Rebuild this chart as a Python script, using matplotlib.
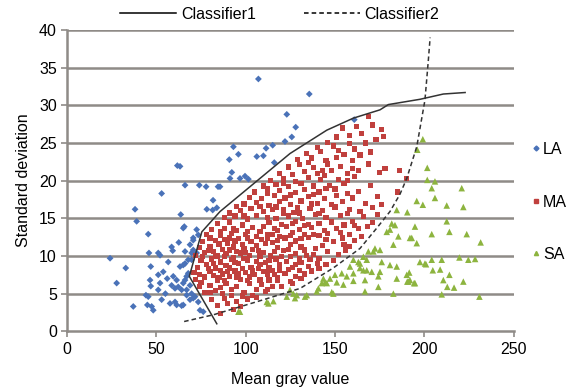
import matplotlib
matplotlib.use("Agg")
import matplotlib.pyplot as plt
from matplotlib.lines import Line2D

plt.rcParams['font.family'] = ['Liberation Sans', 'DejaVu Sans']

# ---------------- data ----------------
la_x = [61.7, 66.0, 74.0, 77.8, 84.5, 52.9, 38.0, 38.9, 81.7, 78.2, 81.5, 83.8, 63.6, 65.6, 45.4,
        24.0, 32.8, 27.7, 45.8, 51.0, 52.0, 58.5, 59.1, 46.8, 51.0, 53.8, 56.6, 46.4, 46.8, 52.0,
        51.0, 44.1, 45.4, 44.9, 47.3, 48.2, 37.0, 52.9, 57.6, 60.4, 61.3, 64.1, 59.4, 61.3, 58.5,
        60.4, 62.2, 63.2, 66.0, 67.8, 66.9, 65.0, 66.9, 69.7, 70.6, 72.5, 73.4, 69.7, 72.5, 74.4,
        76.2, 68.8, 71.6, 107.1, 135.6, 123.0, 128.0, 125.8, 122.0, 115.1, 111.4, 93.1, 95.9, 90.8,
        92.2, 91.2, 96.8, 99.6, 101.5, 106.2, 109.9, 116.0, 85.6, 63.2, 160.8, 70.6, 68.8, 66.0,
        70.6, 69.7, 65.0, 67.8, 66.0, 68.8, 64.1, 66.9, 70.6, 73.4, 65.0, 65.0, 56.0, 62.5, 55.0]
la_y = [22.0, 19.4, 19.4, 19.2, 19.2, 18.3, 16.2, 14.6, 17.4, 16.2, 16.1, 16.4, 15.5, 13.9, 12.9,
        9.7, 8.4, 6.4, 10.4, 10.4, 10.1, 11.2, 10.7, 8.6, 7.5, 7.9, 9.2, 6.8, 6.0, 6.4,
        5.5, 4.8, 4.6, 3.5, 3.3, 2.8, 3.3, 4.2, 3.7, 3.9, 3.5, 3.4, 7.3, 6.8, 6.1,
        5.7, 5.9, 8.6, 9.0, 9.5, 7.3, 6.4, 5.5, 5.0, 12.1, 13.5, 12.8, 10.4, 10.4, 2.8,
        2.6, 4.2, 4.6, 33.5, 31.5, 28.8, 27.1, 25.8, 25.2, 24.7, 24.3, 24.5, 23.5, 22.8,
        21.1, 20.3, 20.3, 20.6, 20.2, 23.2, 23.3, 22.4, 19.2, 21.9, 28.1, 12.4, 11.5, 10.6,
        10.8, 9.5, 8.8, 7.7, 6.8, 6.1, 5.5, 4.8, 4.4, 3.9, 3.5, 13.7, 7.0, 11.8, 5.0]

ma_pts = [
    (86, 2.4), (93, 2.9), (84, 3.4), (90, 3.7), (97, 3.3), (81, 4.2), (88, 4.4), (95, 4.0), (101, 4.3), (104, 4.8),
    (77, 5.1), (83, 5.4), (87, 5.0), (92, 5.6), (99, 5.2), (106, 5.5), (111, 5.3), (115, 5.9), (74, 5.9), (80, 6.1),
    (89, 6.3), (95, 6.0), (102, 6.4), (109, 6.2), (120, 6.0), (125, 6.6), (113, 6.8),
    (72, 6.9), (77, 7.2), (84, 6.8), (91, 7.3), (97, 6.9), (105, 7.5), (118, 7.1), (128, 7.3), (133, 7.6), (71, 7.8),
    (80, 7.9), (87, 7.6), (94, 8.0), (100, 7.8), (110, 7.9), (115, 8.1), (122, 7.7), (137, 8.0), (141, 8.3),
    (73, 8.5), (78, 8.9), (83, 8.4), (89, 8.7), (96, 9.0), (103, 8.5), (108, 8.9), (113, 8.4), (119, 8.8), (126, 8.5),
    (131, 9.1), (145, 8.9), (75, 9.4), (81, 9.6), (86, 9.2), (92, 9.5), (99, 9.7), (106, 9.3), (117, 9.6), (123, 9.3),
    (136, 9.5), (141, 9.7), (149, 9.4),
    (72, 10.1), (77, 10.5), (84, 10.0), (89, 10.3), (95, 10.6), (102, 10.1), (110, 10.5), (114, 10.0), (121, 10.7),
    (128, 10.3), (134, 10.1), (146, 10.6), (152, 10.2), (156, 10.8), (74, 11.1), (80, 11.3), (87, 10.9), (93, 11.2),
    (99, 11.0), (106, 11.4), (118, 11.1), (125, 11.5), (131, 11.2), (139, 11.0), (143, 11.4), (158, 11.3),
    (76, 11.9), (83, 12.1), (90, 11.7), (96, 12.3), (103, 11.9), (109, 12.2), (115, 11.8), (122, 12.4), (128, 12.0),
    (135, 12.5), (149, 11.9), (154, 12.4), (161, 12.1), (78, 12.8), (86, 12.7), (92, 13.0), (100, 12.8), (112, 12.9),
    (119, 12.6), (126, 13.1), (133, 12.8), (141, 12.7), (146, 13.0), (158, 12.9), (165, 12.6),
    (81, 13.5), (88, 13.7), (95, 13.4), (104, 13.8), (108, 13.3), (116, 13.6), (123, 13.9), (130, 13.5), (137, 13.8),
    (144, 13.4), (151, 13.7), (163, 13.6), (168, 13.9), (84, 14.3), (91, 14.5), (98, 14.1), (113, 14.4), (120, 14.2),
    (128, 14.6), (135, 14.2), (148, 14.5), (155, 14.1), (160, 14.6), (171, 14.4),
    (88, 15.1), (94, 15.3), (101, 14.9), (106, 15.4), (117, 15.0), (124, 15.3), (132, 15.0), (139, 15.5), (145, 15.1),
    (153, 15.4), (166, 15.2), (174, 15.5), (97, 16.0), (103, 16.3), (110, 15.9), (115, 16.2), (121, 16.1), (127, 15.8),
    (136, 16.3), (143, 16.0), (158, 16.2), (164, 15.9), (171, 16.4),
    (99, 16.9), (106, 17.1), (113, 16.7), (119, 17.2), (125, 16.8), (131, 17.3), (140, 17.0), (148, 16.8), (154, 17.2),
    (167, 17.0), (176, 16.8), (102, 17.8), (109, 17.6), (116, 18.0), (122, 17.7), (135, 17.9), (144, 17.6), (151, 18.0),
    (160, 17.7), (174, 17.9),
    (105, 18.5), (112, 18.3), (119, 18.7), (128, 18.4), (133, 18.8), (141, 18.5), (150, 18.9), (157, 18.3), (163, 18.6),
    (185, 18.5), (110, 19.3), (117, 19.5), (124, 19.2), (131, 19.6), (138, 19.3), (147, 19.4), (155, 19.6), (170, 19.4),
    (114, 20.0), (121, 20.3), (128, 19.9), (135, 20.4), (142, 20.1), (152, 20.2), (161, 20.5), (190, 20.3), (119, 21.0),
    (126, 20.8), (133, 21.2), (140, 20.9), (148, 21.3), (157, 21.0), (163, 21.4), (175, 21.1), (186, 21.4),
    (124, 21.8), (130, 22.1), (138, 21.7), (146, 22.2), (153, 21.9), (169, 22.2), (178, 21.6), (129, 22.8), (137, 23.0),
    (145, 22.7), (160, 22.7), (151, 23.1),
    (134, 23.6), (142, 23.9), (155, 23.5), (170, 23.8), (140, 24.4), (149, 24.6), (161, 24.2), (146, 25.1), (158, 24.9),
    (167, 25.0), (151, 25.8), (165, 26.3), (177, 25.9), (154, 27.0), (162, 27.2), (176, 26.8), (169, 28.5),
    (75, 6.5), (82, 7.4), (86, 8.1), (91, 8.4), (98, 8.3), (104, 8.0), (111, 9.1), (79, 10.7), (85, 11.6), (97, 10.4),
    (104, 10.9), (111, 11.7), (91, 12.4), (98, 11.5), (106, 12.6), (115, 12.8), (120, 9.9), (93, 9.8), (83, 9.9),
    (88, 6.7), (95, 7.2), (101, 6.7), (108, 6.8), (116, 7.5), (124, 8.2), (130, 8.1),
    (74, 7.5), (79, 8.3), (85, 7.1), (90, 7.9), (96, 7.6), (102, 7.2), (107, 8.3), (112, 7.6), (119, 8.1), (76, 9.9),
    (82, 9.0), (88, 9.9), (94, 9.1), (101, 9.4), (108, 10.0), (113, 9.4), (125, 9.9), (130, 9.6), (82, 10.6), (91, 10.8),
    (100, 10.5), (107, 10.7), (116, 10.6), (124, 10.9), (133, 10.8), (138, 10.2), (80, 12.4), (88, 12.2), (94, 12.0),
    (101, 12.4), (112, 12.4), (118, 12.1), (125, 12.7), (131, 12.3), (86, 13.3), (93, 13.7), (101, 13.3), (110, 13.9),
    (118, 13.4), (126, 14.3), (133, 14.0), (141, 14.3), (91, 15.7), (99, 15.3), (112, 15.1), (121, 15.6), (130, 15.7),
    (141, 15.6), (95, 16.6), (108, 16.6), (117, 16.5), (129, 16.4), (137, 16.9), (112, 18.9), (125, 18.1), (138, 18.2),
    (145, 19.0), (121, 19.6), (144, 20.7), (135, 22.4), (143, 21.4), (160, 21.6), (152, 24.0), (164, 23.4), (158, 26.0),
    (173, 25.5), (171, 27.4), (157, 20.0), (150, 16.5), (157, 15.6), (161, 14.0), (153, 13.1), (155, 11.5), (145, 12.2),
    (138, 12.8), (140, 9.0), (135, 8.6), (128, 8.9), (131, 7.0), (126, 6.3), (118, 6.7), (112, 5.6), (106, 4.5),
    (98, 4.7), (92, 4.8), (86, 5.8), (80, 5.2),
]
ma_x = [p[0] for p in ma_pts]
ma_y = [p[1] for p in ma_pts]

sa_x = [195.8, 199.2, 184.6, 190.5, 181.8, 183.6, 179.0, 180.8, 194.8, 185.5, 192.0, 195.8, 182.7,
        172.4, 175.2, 168.7, 165.9, 167.8, 163.1, 176.2, 180.8, 184.6, 197.6, 200.4, 158.4, 164.0,
        167.8, 170.6, 160.3, 156.6, 153.8, 150.0, 147.2, 151.0, 144.4, 154.7, 160.3, 166.8, 174.3,
        175.2, 184.6, 190.2, 191.1, 194.8, 174.3, 166.8, 182.7, 148.2, 133.2, 140.7, 142.6,
        199.2, 196.1, 201.7, 201.7, 206.0, 204.2, 221.0, 206.0, 212.6, 221.9, 212.6, 214.1, 204.2,
        223.8, 193.0, 231.6, 201.0, 204.2, 204.8, 209.8, 208.9, 214.1, 219.7, 224.7, 228.5, 191.6,
        190.5, 194.3, 192.0, 210.7, 212.9, 216.7, 221.9, 209.8, 230.9,
        96.8, 112.7, 115.5, 126.7, 127.6, 134.2, 171.5, 160.3, 164.0, 165.9, 143.5, 145.4, 149.1,
        139.8, 128.6, 124.8, 123.0, 111.8, 95.9]
sa_y = [17.3, 16.8, 16.1, 15.8, 14.3, 14.1, 13.2, 13.5, 13.9, 12.6, 12.4, 11.7, 11.5,
        11.0, 10.8, 10.6, 9.9, 9.5, 9.2, 9.2, 8.8, 8.6, 9.2, 9.0, 8.6, 8.4,
        8.1, 7.9, 7.7, 7.3, 7.7, 7.5, 7.0, 6.5, 6.5, 6.2, 6.7, 6.8, 7.3,
        7.9, 7.0, 7.5, 6.6, 6.4, 5.9, 5.3, 5.0, 5.2, 4.6, 5.7, 6.4,
        25.5, 24.1, 21.7, 20.1, 19.9, 19.0, 19.0, 17.7, 16.7, 16.5, 14.6, 13.2, 12.9,
        12.9, 12.4, 11.8, 8.9, 9.5, 8.1, 9.5, 8.2, 7.5, 9.8, 9.5, 9.6, 7.8,
        6.6, 6.4, 6.8, 6.8, 5.9, 5.8, 6.6, 4.9, 4.6,
        2.6, 3.7, 4.0, 5.0, 4.4, 4.8, 10.6, 9.5, 9.0, 8.1, 7.0, 6.4, 5.0,
        5.3, 4.8, 5.5, 4.6, 3.9, 2.6]

c1_x = [83.8, 68.4, 75.4, 85.6, 108.0, 124.8, 145.4, 160.3, 175.2, 179.9, 197.6, 210.7, 222.9]
c1_y = [1.0, 7.3, 13.2, 15.9, 20.3, 23.6, 26.7, 28.3, 29.4, 30.1, 30.8, 31.5, 31.7]
c2_x = [65.5, 82.0, 110.0, 130.5, 149.0, 164.0, 173.4, 180.8, 186.4, 190.2, 195.8, 200.4, 202.3, 203.3]
c2_y = [1.3, 2.2, 4.2, 5.7, 8.4, 11.0, 13.7, 15.9, 18.2, 20.3, 24.5, 30.7, 36.0, 39.0]

x_ticks = [0, 50, 100, 150, 200, 250]
y_ticks = [0, 5, 10, 15, 20, 25, 30, 35, 40]

# ---------------- plot ----------------
blue = '#4a72b8'
red = '#c0403d'
green = '#8db43f'
grid_c = '#8f8b87'

fig = plt.figure(figsize=(5.71, 3.89), dpi=100)
ax = fig.add_axes([0.1177, 0.1483, 0.7816, 0.7746])

for yv in y_ticks[1:]:
    ax.axhline(yv, color=grid_c, lw=1.8, zorder=0)

ax.scatter(la_x, la_y, marker='D', s=12, color=blue, edgecolors='none', zorder=3)
ax.scatter(ma_x, ma_y, marker='s', s=14, color=red, edgecolors='none', zorder=3)
ax.scatter(sa_x, sa_y, marker='^', s=22, color=green, edgecolors='none', zorder=3)

ax.plot(c1_x, c1_y, color='#333333', lw=1.1, zorder=4)
ax.plot(c2_x, c2_y, color='#333333', lw=1.1, ls=(0, (3, 2)), zorder=4)

ax.set_xlim(0, 250)
ax.set_ylim(0, 40)
ax.set_xticks(x_ticks)
ax.set_yticks(y_ticks)
for s in ['top', 'right']:
    ax.spines[s].set_visible(False)
for s in ['left', 'bottom']:
    ax.spines[s].set_color(grid_c)
    ax.spines[s].set_linewidth(1.8)
ax.tick_params(axis='both', colors=grid_c, labelcolor='black', labelsize=11.5, length=4, width=1.2)
ax.set_xlabel('Mean gray value', fontsize=11.5, labelpad=11)
ax.set_ylabel('Standard deviation', fontsize=11.5, labelpad=6)

h1 = [Line2D([], [], color='black', lw=1.1),
      Line2D([], [], color='black', lw=1.1, ls=(0, (3, 2)))]
fig.legend(h1, ['Classifier1', 'Classifier2'], loc='upper center', bbox_to_anchor=(0.49, 1.02),
           ncol=2, frameon=False, fontsize=11.5, handlelength=3.5, columnspacing=3.0, handletextpad=0.3)

h2 = [Line2D([], [], marker='D', color=blue, ls='none', markersize=2.5),
      Line2D([], [], marker='s', color=red, ls='none', markersize=2.5),
      Line2D([], [], marker='^', color=green, ls='none', markersize=3)]
fig.legend(h2, ['LA', 'MA', 'SA'], loc='upper left', bbox_to_anchor=(0.905, 0.672),
           frameon=False, fontsize=11.5, handlelength=0.6, handletextpad=0.15, labelspacing=2.35)

fig.savefig('out.png', dpi=100)
